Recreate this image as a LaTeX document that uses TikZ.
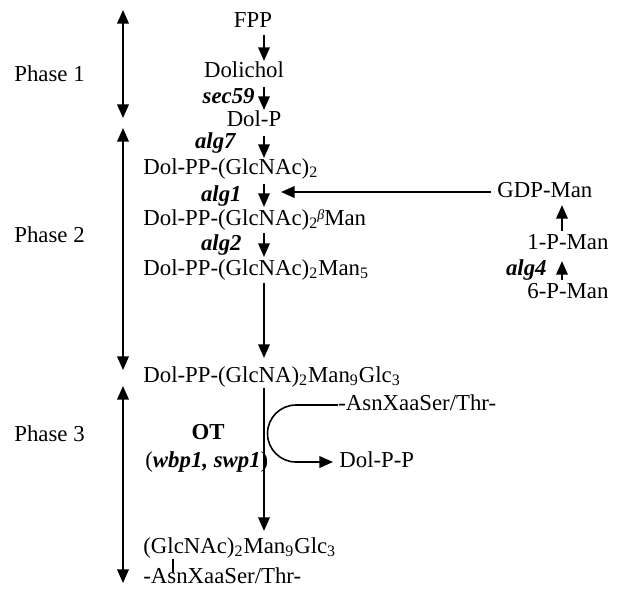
\documentclass[tikz,border=0pt]{standalone}
\usepackage{fontspec}
\setmainfont{Liberation Serif}
\usetikzlibrary{arrows.meta}
\begin{document}
\begin{tikzpicture}[x=0.5pt,y=-0.5pt,
  lbl/.style={inner sep=0pt, text height=8pt, text depth=2.7pt, font=\fontsize{11.4}{14}\selectfont},
  gene/.style={lbl, font=\fontsize{11.4}{14}\selectfont\bfseries\itshape},
  tip/.tip={Triangle[width=5.8pt,length=6.8pt]},
  arr/.style={line width=0.8pt, -tip},
  dbl/.style={line width=0.8pt, tip-tip},
  plain/.style={line width=0.8pt},
]
\useasboundingbox (0,0) rectangle (626,589);
% columns
\coordinate (spine) at (264,0);
\coordinate (rspine) at (562,0);
\coordinate (vx) at (173,0);
\coordinate (arcx) at (296,0);
% main column
\node[lbl] (fpp) at (253,22) {FPP};
\node[lbl] (dolichol) at (244,72) {Dolichol};
\node[gene,anchor=east] (sec59) at (255,98) {sec59};
\node[lbl] (dolp) at (254,121) {Dol-P};
\node[gene,anchor=east] (alg7) at (236,143) {alg7};
\node[lbl,anchor=west] (dgn) at (143,169) {Dol-PP-(GlcNAc)\textsubscript{2}};
\node[gene,anchor=east] (alg1) at (242,196) {alg1};
\node[lbl,anchor=west] (dgnman) at (143,220) {Dol-PP-(GlcNAc)\textsubscript{2}\kern-0.5pt\raisebox{0.6ex}{\scriptsize\itshape β}Man};
\node[gene,anchor=east] (alg2) at (242,245) {alg2};
\node[lbl,anchor=west] (man5) at (143,270) {Dol-PP-(GlcNAc)\textsubscript{2}Man\textsubscript{5}};
\node[lbl,anchor=west] (man9) at (143,377) {Dol-PP-(GlcNA)\textsubscript{2}Man\textsubscript{9}Glc\textsubscript{3}};
\node[font=\fontsize{11.4}{14}\selectfont\bfseries, inner sep=0pt] (ot) at (208,432) {OT};
\node[lbl,anchor=west] (genes) at (145,462) {({\bfseries\itshape wbp1, swp1})};
\node[lbl,anchor=west] (glyco) at (143,548) {(GlcNAc)\textsubscript{2}Man\textsubscript{9}Glc\textsubscript{3}};
\node[lbl,anchor=west] (asn2) at (143,578) {-AsnXaaSer/Thr-};
\node[lbl,anchor=west] (asn1) at (338,405) {-AsnXaaSer/Thr-};
\node[lbl,anchor=west] (dolpp) at (339,462) {Dol-P-P};
% right column
\node[lbl,anchor=west] (gdp) at (497,192) {GDP-Man};
\node[lbl,anchor=west] (pm1) at (527,244) {1-P-Man};
\node[gene,anchor=east] (alg4) at (547,270) {alg4};
\node[lbl,anchor=west] (pm6) at (527,293) {6-P-Man};
% phases
\node[lbl,anchor=west] (ph1) at (14,76) {Phase 1};
\node[lbl,anchor=west] (ph2) at (14,237) {Phase 2};
\node[lbl,anchor=west] (ph3) at (14,436) {Phase 3};
\coordinate (p1a) at (123,10);  \coordinate (p1b) at (123,118);
\coordinate (p2a) at (123,128); \coordinate (p2b) at (123,370);
\coordinate (p3a) at (123,386); \coordinate (p3b) at (123,583);
\draw[dbl] (p1a) -- (p1b);
\draw[dbl] (p2a) -- (p2b);
\draw[dbl] (p3a) -- (p3b);
% main arrows
\draw[arr, shorten <=1pt] (fpp.south -| spine) -- (dolichol.north -| spine);
\draw[arr, shorten <=2pt] (dolichol.south -| spine) -- (dolp.north -| spine);
\draw[arr, shorten <=2pt] (dolp.south -| spine) -- (dgn.north -| spine);
\draw[arr, shorten <=2pt, shorten >=1pt] (dgn.south -| spine) -- (dgnman.north -| spine);
\draw[arr, shorten <=1pt, shorten >=1pt] (dgnman.south -| spine) -- (man5.north -| spine);
\draw[arr, shorten <=1pt, shorten >=4pt] (man5.south -| spine) -- (man9.north -| spine);
\draw[arr, shorten >=3pt] (man9.south -| spine) -- (glyco.north -| spine);
% glycosyl link
\draw[plain] (glyco.south -| vx) -- ([yshift=-3pt]asn2.north -| vx);
% branch
\draw[arr] (asn1.west) -- (asn1.west -| arcx) arc[start angle=270, end angle=90, radius=28.5] -- ([xshift=-3pt]dolpp.west);
% right column arrows
\coordinate (alg1tip) at (281,192);
\draw[arr, shorten <=3pt] (gdp.west) -- (alg1tip);
\draw[arr, shorten <=1pt, shorten >=1pt] (pm1.north -| rspine) -- (gdp.south -| rspine);
\draw[arr, shorten <=1pt, shorten >=3pt] (pm6.north -| rspine) -- (pm1.south -| rspine);
\end{tikzpicture}
\end{document}
